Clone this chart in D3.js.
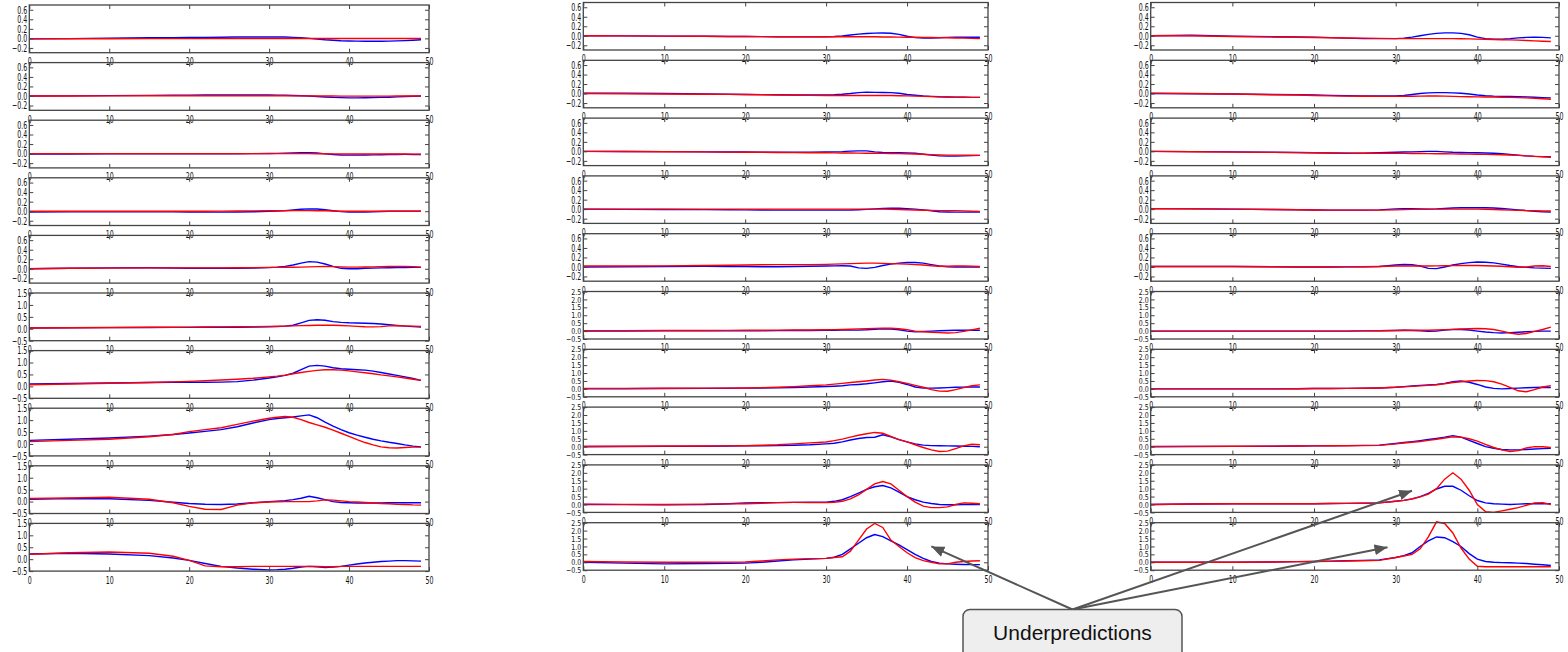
<!DOCTYPE html>
<html>
<head>
<meta charset="utf-8">
<script src="https://cdn.jsdelivr.net/npm/d3@7"></script>
<style>
  body { margin: 0; background: #fff; }
  svg { display: block; }
</style>
</head>
<body>
<svg id="chart" width="1568" height="652"></svg>
<script>
// shared x positions of the samples (time steps)
const xGrid = [0, 5, 10, 15, 18, 20, 22, 24, 26, 28, 30, 31, 32, 33, 34, 35, 36, 37, 38, 39, 40, 41, 42, 43, 44, 45, 46, 47, 48, 49];

const xTicks = [0, 10, 20, 30, 40, 50];
const yTicksSmall = [-0.2, 0, 0.2, 0.4, 0.6];
const yTicksMid = [-0.5, 0, 0.5, 1, 1.5];
const yTicksBig = [-0.5, 0, 0.5, 1, 1.5, 2, 2.5];

// left column, rows 1..10
const leftBlue = [
  [-0.01,-0.005,0.005,0.012,0.017,0.02,0.022,0.025,0.028,0.03,0.03,0.03,0.028,0.022,0.012,0.0,-0.015,-0.03,-0.04,-0.05,-0.055,-0.058,-0.06,-0.06,-0.06,-0.057,-0.052,-0.047,-0.04,-0.03],
  [0.0,0.003,0.008,0.012,0.016,0.018,0.02,0.022,0.022,0.022,0.02,0.018,0.015,0.01,0.005,0.0,-0.01,-0.02,-0.03,-0.035,-0.04,-0.04,-0.038,-0.035,-0.03,-0.025,-0.018,-0.01,-0.005,0.0],
  [-0.01,-0.008,-0.006,-0.005,-0.005,-0.005,-0.004,-0.003,-0.002,0.0,0.002,0.005,0.008,0.012,0.018,0.02,0.012,-0.005,-0.02,-0.028,-0.032,-0.033,-0.03,-0.027,-0.023,-0.02,-0.018,-0.017,-0.018,-0.02],
  [-0.02,-0.015,-0.012,-0.012,-0.015,-0.018,-0.02,-0.02,-0.018,-0.012,-0.002,0.005,0.012,0.025,0.04,0.048,0.045,0.03,0.01,-0.008,-0.018,-0.02,-0.018,-0.012,-0.006,-0.002,0.0,0.0,0.0,0.0],
  [0.0,0.012,0.02,0.022,0.018,0.012,0.01,0.01,0.012,0.015,0.025,0.035,0.05,0.08,0.12,0.15,0.14,0.1,0.05,0.01,0.0,0.002,0.01,0.015,0.02,0.022,0.025,0.028,0.03,0.03],
  [0.03,0.04,0.05,0.055,0.058,0.06,0.062,0.064,0.066,0.068,0.08,0.09,0.11,0.15,0.25,0.35,0.38,0.36,0.3,0.27,0.25,0.24,0.23,0.22,0.2,0.17,0.14,0.11,0.09,0.07],
  [0.1,0.12,0.14,0.16,0.17,0.17,0.17,0.18,0.2,0.26,0.35,0.4,0.46,0.55,0.7,0.85,0.88,0.85,0.78,0.74,0.72,0.7,0.68,0.64,0.58,0.52,0.46,0.4,0.33,0.25],
  [0.15,0.2,0.25,0.33,0.4,0.46,0.53,0.6,0.72,0.88,1.02,1.07,1.1,1.13,1.18,1.22,1.1,0.92,0.75,0.6,0.47,0.37,0.28,0.2,0.13,0.07,0.02,-0.04,-0.09,-0.12],
  [0.1,0.13,0.12,0.05,-0.03,-0.08,-0.11,-0.12,-0.1,-0.05,0.0,0.02,0.04,0.08,0.14,0.22,0.16,0.08,0.0,-0.04,-0.05,-0.06,-0.06,-0.06,-0.06,-0.05,-0.05,-0.05,-0.05,-0.05],
  [0.22,0.25,0.22,0.15,0.05,-0.05,-0.18,-0.3,-0.37,-0.42,-0.45,-0.44,-0.42,-0.38,-0.33,-0.3,-0.32,-0.35,-0.33,-0.3,-0.25,-0.2,-0.16,-0.13,-0.1,-0.08,-0.06,-0.06,-0.07,-0.08]
];
const leftRed = [
  [-0.01,-0.008,-0.006,-0.005,-0.005,-0.004,-0.004,-0.003,-0.003,-0.003,-0.003,-0.003,-0.003,-0.003,-0.003,-0.003,-0.003,-0.003,-0.003,-0.003,-0.003,-0.003,-0.003,-0.003,-0.003,-0.002,-0.002,-0.002,-0.001,0.0],
  [0.0,0.0,0.002,0.004,0.005,0.006,0.006,0.006,0.006,0.005,0.005,0.004,0.004,0.003,0.002,0.002,0.001,0.0,0.0,-0.002,-0.003,-0.003,-0.003,-0.003,-0.002,-0.002,-0.001,0.0,0.0,0.0],
  [0.0,0.0,0.0,0.0,0.0,0.0,0.0,0.0,0.0,0.0,0.0,0.0,0.0,0.0,0.0,0.0,-0.002,-0.004,-0.006,-0.008,-0.01,-0.01,-0.01,-0.01,-0.01,-0.01,-0.01,-0.01,-0.012,-0.012],
  [0.0,0.0,0.0,0.0,0.0,0.0,0.0,0.002,0.004,0.006,0.008,0.01,0.01,0.012,0.012,0.012,0.01,0.008,0.004,0.0,-0.002,-0.002,0.0,0.0,0.0,0.0,0.0,0.0,0.0,0.0],
  [0.0,0.01,0.015,0.02,0.02,0.02,0.02,0.02,0.022,0.025,0.03,0.03,0.032,0.033,0.035,0.04,0.045,0.048,0.045,0.04,0.035,0.035,0.038,0.04,0.045,0.048,0.05,0.05,0.045,0.035],
  [0.03,0.045,0.055,0.062,0.066,0.07,0.075,0.08,0.085,0.09,0.1,0.105,0.11,0.12,0.13,0.14,0.145,0.15,0.15,0.14,0.12,0.1,0.085,0.08,0.09,0.12,0.13,0.12,0.11,0.1],
  [0.07,0.1,0.13,0.16,0.19,0.21,0.24,0.27,0.3,0.34,0.4,0.43,0.47,0.53,0.58,0.63,0.67,0.7,0.7,0.68,0.65,0.61,0.57,0.53,0.48,0.44,0.4,0.35,0.3,0.25],
  [0.1,0.15,0.2,0.3,0.4,0.52,0.6,0.68,0.82,0.96,1.08,1.12,1.15,1.12,1.02,0.9,0.8,0.7,0.58,0.45,0.32,0.18,0.06,-0.04,-0.12,-0.16,-0.17,-0.15,-0.13,-0.13],
  [0.13,0.15,0.18,0.1,-0.05,-0.2,-0.32,-0.33,-0.15,-0.05,-0.02,-0.01,0.0,0.0,0.0,0.0,0.03,0.07,0.06,0.03,0.0,-0.02,-0.04,-0.06,-0.08,-0.09,-0.11,-0.12,-0.14,-0.15],
  [0.2,0.27,0.3,0.25,0.12,-0.05,-0.28,-0.32,-0.32,-0.3,-0.3,-0.3,-0.3,-0.3,-0.3,-0.3,-0.31,-0.32,-0.32,-0.3,-0.3,-0.3,-0.3,-0.3,-0.3,-0.3,-0.3,-0.3,-0.3,-0.3]
];

// middle column
const midBlue = [
  [0.0,-0.003,-0.008,-0.012,-0.015,-0.017,-0.018,-0.02,-0.02,-0.02,-0.02,-0.015,-0.005,0.015,0.035,0.048,0.055,0.058,0.052,0.03,-0.01,-0.04,-0.05,-0.048,-0.042,-0.035,-0.03,-0.03,-0.03,-0.03],
  [0.01,0.005,0.0,-0.01,-0.015,-0.02,-0.022,-0.025,-0.028,-0.03,-0.03,-0.025,-0.015,0.0,0.02,0.03,0.025,0.022,0.02,0.005,-0.02,-0.035,-0.05,-0.06,-0.068,-0.072,-0.075,-0.078,-0.08,-0.08],
  [0.0,-0.003,-0.006,-0.01,-0.013,-0.015,-0.018,-0.02,-0.02,-0.02,-0.015,-0.01,-0.005,0.005,0.01,0.01,-0.01,-0.025,-0.03,-0.03,-0.032,-0.04,-0.06,-0.08,-0.095,-0.1,-0.1,-0.095,-0.09,-0.085],
  [0.0,-0.005,-0.008,-0.01,-0.012,-0.015,-0.018,-0.02,-0.02,-0.02,-0.02,-0.02,-0.02,-0.018,-0.012,-0.005,0.005,0.015,0.02,0.018,0.01,0.0,-0.015,-0.035,-0.055,-0.06,-0.062,-0.062,-0.06,-0.06],
  [0.0,0.005,0.01,0.012,0.01,0.008,0.005,0.005,0.01,0.015,0.02,0.022,0.025,0.02,-0.02,-0.03,-0.01,0.03,0.06,0.08,0.095,0.095,0.08,0.05,0.02,0.005,0.0,0.0,0.0,0.0],
  [0.0,0.0,0.01,0.015,0.02,0.02,0.025,0.03,0.035,0.04,0.05,0.055,0.06,0.06,0.06,0.08,0.12,0.15,0.13,0.08,0.0,-0.05,-0.03,0.0,0.02,0.04,0.05,0.05,0.05,0.05],
  [0.0,0.01,0.02,0.03,0.04,0.05,0.06,0.07,0.09,0.12,0.15,0.17,0.2,0.25,0.28,0.32,0.38,0.45,0.5,0.42,0.28,0.12,0.05,0.05,0.06,0.08,0.1,0.11,0.12,0.12],
  [0.0,0.01,0.02,0.03,0.04,0.05,0.06,0.07,0.09,0.12,0.18,0.22,0.3,0.42,0.52,0.58,0.6,0.75,0.62,0.45,0.3,0.18,0.1,0.07,0.06,0.05,0.04,0.03,0.02,0.0],
  [0.0,-0.01,-0.02,0.0,0.05,0.1,0.12,0.12,0.13,0.14,0.15,0.2,0.3,0.5,0.72,0.95,1.12,1.2,1.05,0.78,0.5,0.3,0.15,0.06,0.0,-0.02,-0.02,0.0,0.0,0.0],
  [0.0,-0.05,-0.1,-0.08,-0.06,-0.05,0.0,0.08,0.15,0.2,0.25,0.32,0.5,0.85,1.2,1.55,1.75,1.62,1.35,1.1,0.8,0.5,0.25,0.05,-0.05,-0.1,-0.12,-0.14,-0.15,-0.15]
];
const midRed = [
  [0.0,-0.003,-0.008,-0.012,-0.015,-0.017,-0.018,-0.02,-0.02,-0.02,-0.02,-0.02,-0.02,-0.02,-0.02,-0.02,-0.022,-0.025,-0.027,-0.03,-0.03,-0.032,-0.034,-0.036,-0.04,-0.042,-0.046,-0.05,-0.055,-0.06],
  [0.0,-0.005,-0.01,-0.015,-0.018,-0.02,-0.025,-0.03,-0.035,-0.038,-0.04,-0.04,-0.04,-0.04,-0.04,-0.04,-0.04,-0.04,-0.04,-0.045,-0.05,-0.055,-0.06,-0.065,-0.07,-0.072,-0.075,-0.078,-0.08,-0.08],
  [0.0,-0.004,-0.008,-0.012,-0.016,-0.018,-0.02,-0.023,-0.026,-0.028,-0.03,-0.032,-0.034,-0.036,-0.038,-0.04,-0.04,-0.042,-0.045,-0.048,-0.05,-0.055,-0.062,-0.07,-0.076,-0.08,-0.08,-0.08,-0.082,-0.085],
  [0.0,0.0,0.0,0.0,0.0,0.0,0.0,0.0,0.0,0.0,0.0,0.0,0.0,0.0,0.0,0.0,0.0,0.0,-0.002,-0.008,-0.012,-0.018,-0.022,-0.026,-0.03,-0.03,-0.032,-0.036,-0.042,-0.048],
  [0.02,0.02,0.022,0.03,0.035,0.04,0.045,0.048,0.05,0.05,0.055,0.06,0.065,0.07,0.075,0.08,0.08,0.075,0.07,0.065,0.06,0.05,0.04,0.025,0.015,0.015,0.02,0.02,0.015,0.01],
  [0.03,0.03,0.035,0.04,0.045,0.05,0.055,0.06,0.065,0.07,0.08,0.09,0.1,0.12,0.14,0.15,0.17,0.18,0.18,0.15,0.08,0.0,-0.04,-0.07,-0.1,-0.12,-0.1,-0.02,0.08,0.18],
  [0.03,0.03,0.04,0.045,0.05,0.06,0.08,0.1,0.14,0.2,0.25,0.3,0.35,0.4,0.45,0.5,0.56,0.6,0.55,0.45,0.35,0.22,0.1,-0.05,-0.14,-0.15,-0.05,0.08,0.2,0.25],
  [0.03,0.03,0.04,0.045,0.05,0.06,0.09,0.12,0.18,0.24,0.3,0.38,0.48,0.6,0.72,0.82,0.9,0.85,0.65,0.45,0.3,0.12,-0.05,-0.2,-0.3,-0.28,-0.12,0.05,0.15,0.12],
  [0.02,0.01,0.0,0.02,0.04,0.05,0.08,0.12,0.13,0.12,0.12,0.14,0.2,0.35,0.6,0.95,1.3,1.45,1.3,0.9,0.5,0.15,-0.1,-0.2,-0.2,-0.15,0.0,0.1,0.08,0.05],
  [0.05,0.02,0.0,0.0,0.01,0.02,0.08,0.15,0.2,0.23,0.25,0.3,0.35,0.7,1.4,2.1,2.45,2.2,1.4,1.0,0.6,0.3,0.1,0.0,-0.1,-0.1,0.0,0.05,0.08,0.1]
];

// right column
const rightBlue = [
  [0.0,0.01,-0.01,-0.02,-0.025,-0.03,-0.04,-0.05,-0.06,-0.06,-0.06,-0.05,-0.03,0.0,0.03,0.05,0.06,0.06,0.05,0.02,-0.03,-0.06,-0.07,-0.07,-0.06,-0.045,-0.035,-0.03,-0.035,-0.045],
  [0.0,-0.005,-0.01,-0.02,-0.025,-0.03,-0.038,-0.045,-0.05,-0.05,-0.05,-0.04,-0.02,0.0,0.015,0.02,0.02,0.015,0.005,-0.01,-0.03,-0.045,-0.055,-0.06,-0.062,-0.065,-0.07,-0.078,-0.085,-0.09],
  [0.0,-0.005,-0.01,-0.018,-0.024,-0.03,-0.035,-0.04,-0.038,-0.03,-0.02,-0.015,-0.01,-0.005,0.0,0.0,-0.01,-0.02,-0.025,-0.028,-0.03,-0.035,-0.04,-0.05,-0.065,-0.08,-0.095,-0.105,-0.11,-0.115],
  [0.01,0.005,0.0,-0.008,-0.014,-0.018,-0.02,-0.02,-0.02,-0.015,0.005,0.01,0.008,0.003,0.0,0.005,0.015,0.025,0.03,0.03,0.03,0.03,0.025,0.015,0.0,-0.015,-0.03,-0.045,-0.055,-0.06],
  [0.01,0.01,0.01,0.005,0.0,0.0,0.0,0.002,0.005,0.01,0.04,0.05,0.045,0.02,-0.03,-0.035,0.0,0.04,0.07,0.09,0.105,0.1,0.085,0.06,0.03,0.005,-0.01,-0.02,-0.025,-0.03],
  [0.0,0.0,0.0,0.0,0.0,0.0,0.0,0.0,0.01,0.02,0.04,0.05,0.04,0.02,-0.02,0.0,0.06,0.1,0.1,0.07,0.0,-0.06,-0.1,-0.12,-0.1,-0.07,-0.04,-0.02,0.0,0.0],
  [0.0,0.0,0.0,0.0,0.01,0.02,0.02,0.03,0.04,0.06,0.1,0.14,0.18,0.22,0.25,0.28,0.35,0.45,0.5,0.42,0.28,0.12,0.03,0.0,0.02,0.05,0.07,0.09,0.1,0.08],
  [0.0,0.01,0.02,0.03,0.04,0.05,0.06,0.07,0.08,0.1,0.2,0.26,0.32,0.38,0.45,0.52,0.6,0.7,0.6,0.4,0.2,0.0,-0.1,-0.18,-0.2,-0.2,-0.18,-0.15,-0.12,-0.1],
  [0.0,0.03,0.05,0.05,0.05,0.05,0.06,0.07,0.08,0.1,0.2,0.26,0.35,0.5,0.7,0.98,1.15,1.15,0.9,0.55,0.25,0.1,0.05,0.02,0.0,0.02,0.05,0.05,0.05,0.05],
  [0.0,0.0,0.0,0.02,0.04,0.05,0.07,0.1,0.12,0.15,0.3,0.42,0.6,1.0,1.35,1.6,1.55,1.3,1.0,0.55,0.2,0.05,0.0,-0.02,-0.03,-0.05,-0.08,-0.12,-0.16,-0.2]
];
const rightRed = [
  [0.0,0.0,-0.015,-0.025,-0.032,-0.036,-0.042,-0.047,-0.05,-0.055,-0.06,-0.06,-0.06,-0.06,-0.06,-0.06,-0.06,-0.06,-0.062,-0.065,-0.07,-0.075,-0.08,-0.083,-0.087,-0.092,-0.1,-0.108,-0.115,-0.12],
  [0.01,0.0,-0.01,-0.025,-0.032,-0.04,-0.048,-0.055,-0.058,-0.06,-0.06,-0.058,-0.056,-0.054,-0.052,-0.05,-0.055,-0.06,-0.065,-0.068,-0.07,-0.072,-0.074,-0.077,-0.08,-0.085,-0.092,-0.1,-0.11,-0.12],
  [0.0,-0.008,-0.016,-0.022,-0.026,-0.03,-0.034,-0.038,-0.04,-0.04,-0.04,-0.042,-0.044,-0.046,-0.048,-0.05,-0.052,-0.054,-0.056,-0.058,-0.06,-0.064,-0.068,-0.072,-0.078,-0.085,-0.095,-0.105,-0.115,-0.125],
  [0.01,0.008,0.0,-0.008,-0.014,-0.018,-0.02,-0.02,-0.02,-0.02,-0.015,-0.01,-0.005,0.0,0.0,0.0,0.0,0.0,0.0,0.0,0.0,-0.003,-0.008,-0.013,-0.02,-0.025,-0.03,-0.035,-0.038,-0.04],
  [0.01,0.01,0.01,0.005,0.0,0.0,0.0,0.002,0.005,0.01,0.02,0.02,0.02,0.02,0.02,0.022,0.025,0.028,0.03,0.03,0.03,0.025,0.02,0.015,0.005,-0.005,0.0,0.02,0.025,0.01],
  [0.0,0.0,0.0,0.0,0.0,0.0,0.0,0.0,0.01,0.02,0.04,0.05,0.05,0.05,0.05,0.07,0.09,0.11,0.13,0.15,0.16,0.15,0.1,0.0,-0.12,-0.2,-0.15,-0.02,0.1,0.25],
  [0.0,0.0,0.0,0.0,0.01,0.02,0.02,0.03,0.04,0.06,0.1,0.13,0.16,0.19,0.22,0.26,0.32,0.4,0.45,0.5,0.53,0.52,0.45,0.3,0.1,-0.12,-0.18,-0.05,0.12,0.2],
  [0.02,0.02,0.03,0.035,0.04,0.05,0.055,0.06,0.07,0.08,0.18,0.23,0.28,0.33,0.4,0.47,0.55,0.62,0.6,0.5,0.35,0.15,-0.05,-0.2,-0.3,-0.25,-0.08,0.0,0.0,-0.05],
  [0.0,0.03,0.05,0.05,0.05,0.05,0.06,0.07,0.08,0.1,0.2,0.26,0.35,0.48,0.65,1.0,1.6,2.0,1.6,0.9,0.0,-0.45,-0.5,-0.4,-0.3,-0.2,-0.05,0.1,0.12,0.0],
  [0.0,0.0,0.0,0.02,0.04,0.05,0.06,0.08,0.1,0.12,0.3,0.4,0.5,0.85,1.6,2.55,2.45,1.85,0.9,0.2,-0.25,-0.28,-0.28,-0.28,-0.28,-0.28,-0.28,-0.28,-0.28,-0.28]
];

// arrows of the note: [column, row, x, y] in the data units of that panel
const arrowTargets = [[1, 9, 43, 1.0], [2, 8, 32, 0.87], [2, 9, 29, 0.95]];
const noteLabel = "Underpredictions";

const svg = d3.select("#chart");
const textSqueeze = 0.6;   // tick labels in the picture are squashed sideways

const columns = [
  { left: 29.3, right: 429, top: 5, step: 57.6, h: 47.7, blue: leftBlue, red: leftRed, big: yTicksMid },
  { left: 583.3, right: 988, top: 2.5, step: 57.8, h: 47.5, blue: midBlue, red: midRed, big: yTicksBig },
  { left: 1150.7, right: 1559, top: 2.5, step: 57.8, h: 47.5, blue: rightBlue, red: rightRed, big: yTicksBig }
];

const panels = [];

function squeeze(sel, sy = 1) {
  sel.selectAll("text")
    .attr("transform", `scale(${textSqueeze},${sy})`)
    .attr("x", function () { return (+this.getAttribute("x") || 0) / textSqueeze; })
    .style("font-family", "'DejaVu Sans', sans-serif")
    .style("font-size", "10.5px")
    .attr("fill", "#111");
}

columns.forEach((col, ci) => {
  const xScale = d3.scaleLinear().domain([0, 50]).range([col.left, col.right]);
  panels[ci] = [];
  col.blue.forEach((blueVals, ri) => {
    const top = col.top + ri * col.step;
    const bottom = top + col.h;
    const ticks = ri < 5 ? yTicksSmall : col.big;
    const domain = ri < 5 ? [-0.3, 0.7] : [ticks[0], ticks[ticks.length - 1]];
    const yScale = d3.scaleLinear().domain(domain).range([bottom, top]);
    panels[ci][ri] = { x: xScale, y: yScale };

    const g = svg.append("g").attr("class", "panel");

    const line = d3.line()
      .x((d, i) => xScale(xGrid[i]))
      .y(d => yScale(d));

    g.append("path").datum(blueVals)
      .attr("fill", "none").attr("stroke", "#0000ff").attr("stroke-width", 1.4)
      .attr("d", line);
    g.append("path").datum(col.red[ri])
      .attr("fill", "none").attr("stroke", "#ff0000").attr("stroke-width", 1.4)
      .attr("d", line);

    // inward ticks on all four sides, matplotlib classic look
    const bx = g.append("g").attr("transform", `translate(0,${bottom})`)
      .call(d3.axisBottom(xScale).tickValues(xTicks).tickSize(-4).tickPadding(5));
    const tx = g.append("g").attr("transform", `translate(0,${top})`)
      .call(d3.axisTop(xScale).tickValues(xTicks).tickSize(-4).tickFormat(""));
    const ly = g.append("g").attr("transform", `translate(${col.left},0)`)
      .call(d3.axisLeft(yScale).tickValues(ticks).tickSize(-4).tickPadding(2)
        .tickFormat(d3.format(".1f")));
    const ry = g.append("g").attr("transform", `translate(${col.right},0)`)
      .call(d3.axisRight(yScale).tickValues(ticks).tickSize(-4).tickFormat(""));

    [bx, tx, ly, ry].forEach(a => {
      a.select(".domain").remove();
      a.selectAll("line").attr("stroke", "#444");
    });
    squeeze(bx);
    // the 7-label axes are packed tight, glyphs are shorter there
    squeeze(ly, ticks.length > 5 ? 0.78 : 1);

    g.append("rect")
      .attr("x", col.left).attr("y", top)
      .attr("width", col.right - col.left).attr("height", col.h)
      .attr("fill", "none").attr("stroke", "#444").attr("stroke-width", 1.3);
  });
});

// note box with arrows
const defs = svg.append("defs");
defs.append("marker")
  .attr("id", "head")
  .attr("viewBox", "0 0 12 10")
  .attr("refX", 12).attr("refY", 5)
  .attr("markerWidth", 13).attr("markerHeight", 11)
  .attr("markerUnits", "userSpaceOnUse")
  .attr("orient", "auto")
  .append("path").attr("d", "M0,0L12,5L0,10Z").attr("fill", "#555");

const boxX = 963, boxY = 609.5, boxW = 219;
const origin = [boxX + boxW / 2, boxY];

const note = svg.append("g").attr("class", "note");
arrowTargets.forEach(([ci, ri, dx, dy]) => {
  const p = panels[ci][ri];
  const tx = p.x(dx), ty = p.y(dy);
  note.append("line")
    .attr("x1", origin[0]).attr("y1", origin[1])
    .attr("x2", tx).attr("y2", ty)
    .attr("stroke", "#555").attr("stroke-width", 2)
    .attr("marker-end", "url(#head)");
});

note.append("rect")
  .attr("x", boxX).attr("y", boxY)
  .attr("width", boxW).attr("height", 52)
  .attr("rx", 7)
  .attr("fill", "#eeeeee").attr("stroke", "#555").attr("stroke-width", 1.5);
note.append("text")
  .attr("x", boxX + boxW / 2).attr("y", 639.5)
  .attr("text-anchor", "middle")
  .style("font-family", "'Liberation Sans', Arial, sans-serif")
  .style("font-size", "21px")
  .attr("fill", "#111")
  .text(noteLabel);
</script>
</body>
</html>
